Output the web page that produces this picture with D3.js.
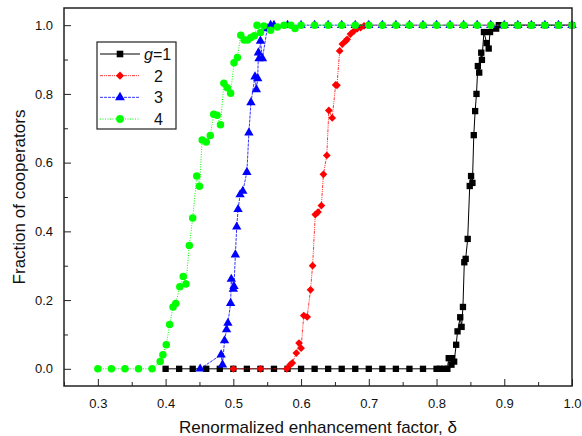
<!DOCTYPE html>
<html>
<head>
<meta charset="utf-8">
<script src="https://cdn.jsdelivr.net/npm/d3@7"></script>
<style>
  body { margin: 0; background: #fff; }
  svg { display: block; font-family: "Liberation Sans", Arial, sans-serif; }
</style>
</head>
<body>
<div id="chart"></div>
<script>
// series data: [delta, fraction]
var g1 = [[0.40,0],[0.42,0],[0.44,0],[0.46,0],[0.48,0],[0.50,0],[0.52,0],[0.54,0],[0.56,0],[0.58,0],
  [0.60,0],[0.62,0],[0.64,0],[0.66,0],[0.68,0],[0.70,0],[0.72,0],[0.74,0],[0.76,0],[0.78,0],[0.80,0],
  [0.805,0],[0.811,0],[0.816,0],[0.818,0.031],[0.822,0.012],[0.823,0.031],[0.826,0.021],[0.829,0.070],
  [0.831,0.109],[0.835,0.150],[0.837,0.122],[0.839,0.180],[0.841,0.310],[0.843,0.320],[0.846,0.378],
  [0.849,0.532],[0.851,0.561],[0.853,0.541],[0.855,0.680],[0.857,0.750],[0.859,0.800],[0.861,0.881],
  [0.863,0.862],[0.866,0.920],[0.867,0.899],[0.870,0.980],[0.874,0.948],[0.877,0.932],[0.879,0.980],
  [0.888,0.990],[0.892,1],[0.90,1],[0.92,1],[0.94,1],[0.96,1],[0.98,1],[1.00,1]];
var g2 = [[0.50,0],[0.54,0],[0.579,0],[0.584,0.012],[0.587,0.017],[0.593,0.046],[0.597,0.075],[0.600,0.060],
  [0.604,0.155],[0.609,0.151],[0.614,0.230],[0.617,0.300],[0.621,0.449],[0.625,0.456],[0.630,0.475],
  [0.633,0.566],[0.638,0.621],[0.641,0.752],[0.646,0.730],[0.651,0.826],[0.653,0.825],[0.657,0.925],
  [0.661,0.945],[0.666,0.954],[0.668,0.959],[0.673,0.974],[0.678,0.983],[0.683,0.990],[0.688,0.993],
  [0.693,0.998],[0.698,1],[0.72,1],[0.74,1],[0.76,1],[0.78,1],[0.80,1],[0.82,1],[0.84,1],[0.86,1],
  [0.88,1],[0.90,1],[0.92,1],[0.94,1],[0.96,1],[0.98,1],[1.00,1]];
var g3 = [[0.451,0],[0.482,0.041],[0.484,0.012],[0.487,0.082],[0.490,0.114],[0.492,0.133],[0.496,0.191],
  [0.497,0.261],[0.500,0.232],[0.501,0.240],[0.503,0.332],[0.505,0.413],[0.507,0.464],[0.510,0.507],
  [0.514,0.517],[0.520,0.572],[0.523,0.687],[0.526,0.775],[0.532,0.850],[0.534,0.813],[0.536,0.845],
  [0.537,0.920],[0.538,0.903],[0.540,0.954],[0.543,0.903],[0.550,0.990],[0.555,1],[0.56,1],[0.58,1],
  [0.60,1],[0.62,1],[0.64,1],[0.66,1],[0.68,1],[0.70,1],[0.72,1],[0.74,1],[0.76,1],[0.78,1],[0.80,1],
  [0.82,1],[0.84,1],[0.86,1],[0.88,1],[0.90,1],[0.92,1],[0.94,1],[0.96,1],[0.98,1],[1.00,1]];
var g4 = [[0.30,0],[0.32,0],[0.34,0],[0.36,0],[0.38,0],[0.392,0.021],[0.396,0.041],[0.401,0.070],
  [0.406,0.129],[0.411,0.180],[0.415,0.190],[0.421,0.239],[0.426,0.269],[0.430,0.247],[0.435,0.359],
  [0.440,0.439],[0.446,0.561],[0.450,0.531],[0.454,0.666],[0.460,0.660],[0.466,0.679],[0.471,0.741],
  [0.476,0.738],[0.481,0.710],[0.486,0.831],[0.491,0.818],[0.496,0.802],[0.501,0.891],[0.506,0.906],
  [0.511,0.971],[0.516,0.957],[0.521,0.957],[0.526,0.964],[0.531,0.969],[0.535,1],[0.540,0.979],
  [0.545,0.998],[0.555,0.985],[0.565,0.995],[0.575,1],[0.585,1],[0.591,0.99],[0.60,1],[0.62,1],
  [0.64,1],[0.66,1],[0.68,1],[0.70,1],[0.72,1],[0.74,1],[0.76,1],[0.78,1],[0.80,1],[0.82,1],[0.84,1],
  [0.86,1],[0.88,1],[0.90,1],[0.92,1],[0.94,1],[0.96,1],[0.98,1],[1.00,1]];

var legendLabels = ["1", "2", "3", "4"];
var xTicks = [0.3, 0.4, 0.5, 0.6, 0.7, 0.8, 0.9, 1.0];
var yTicks = [0.0, 0.2, 0.4, 0.6, 0.8, 1.0];

var width = 582, height = 436;
var margin = {left: 64, right: 10, top: 8, bottom: 50};

var series = [
  {data: g1, color: "#000", dash: null, sym: d3.symbolSquare, size: 40, rot: 0, lw: 1},
  {data: g2, color: "#ff0000", dash: "3,1,1,1,1,1", sym: d3.symbolSquare, size: 30, rot: 45, lw: 0.8},
  {data: g3, color: "#0000ff", dash: "3,1", sym: d3.symbolTriangle, size: 38, rot: 0, lw: 0.8},
  {data: g4, color: "#00ff00", dash: "1,1.5", sym: d3.symbolCircle, size: 44, rot: 0, lw: 1}
];

var svg = d3.select("#chart").append("svg")
  .attr("width", width).attr("height", height);

var x = d3.scaleLinear().domain([0.25, 1.0]).range([margin.left, width - margin.right]);
var y = d3.scaleLinear().domain([-0.05, 1.05]).range([height - margin.bottom, margin.top]);

// axes, ticks pointing inwards
var xAxis = d3.axisBottom(x).tickValues(xTicks).tickFormat(d3.format(".1f")).tickSizeInner(-7).tickSizeOuter(0).tickPadding(13);
var xMinor = d3.axisBottom(x).tickValues(d3.range(0.25, 1.0, 0.1).map(d => +d.toFixed(2))).tickFormat("").tickSizeInner(-4).tickSizeOuter(0);
var yAxis = d3.axisLeft(y).tickValues(yTicks).tickFormat(d3.format(".1f")).tickSizeInner(-7).tickSizeOuter(0).tickPadding(11);
var yMinor = d3.axisLeft(y).tickValues([0.1, 0.3, 0.5, 0.7, 0.9]).tickFormat("").tickSizeInner(-4).tickSizeOuter(0);

function styleAxis(g) {
  g.select(".domain").remove();
  g.selectAll("line").attr("stroke", "#222").attr("stroke-width", 1);
  g.selectAll("text").attr("font-size", 13).attr("fill", "#111")
    .attr("font-family", "'Liberation Sans', Arial, sans-serif");
}

svg.append("g").attr("transform", "translate(0," + (height - margin.bottom) + ")").call(xAxis).call(styleAxis);
svg.append("g").attr("transform", "translate(0," + (height - margin.bottom) + ")").call(xMinor).call(styleAxis);
svg.append("g").attr("transform", "translate(" + margin.left + ",0)").call(yAxis).call(styleAxis);
svg.append("g").attr("transform", "translate(" + margin.left + ",0)").call(yMinor).call(styleAxis);

// series
var line = d3.line().x(d => x(d[0])).y(d => y(d[1]));
series.forEach(function (s) {
  svg.append("path").datum(s.data)
    .attr("fill", "none").attr("stroke", s.color).attr("stroke-width", s.lw)
    .attr("stroke-dasharray", s.dash).attr("d", line);
  svg.append("g").selectAll("path").data(s.data).enter().append("path")
    .attr("d", d3.symbol().type(s.sym).size(s.size))
    .attr("transform", d => "translate(" + x(d[0]) + "," + y(d[1]) + ") rotate(" + s.rot + ")")
    .attr("fill", s.color);
});

// frame
svg.append("rect")
  .attr("x", margin.left).attr("y", margin.top)
  .attr("width", width - margin.left - margin.right)
  .attr("height", height - margin.top - margin.bottom)
  .attr("fill", "none").attr("stroke", "#222").attr("stroke-width", 1.5);

// axis titles
svg.append("text")
  .attr("x", (margin.left + width - margin.right) / 2).attr("y", 433)
  .attr("text-anchor", "middle").attr("font-size", 17).attr("fill", "#111")
  .text("Renormalized enhancement factor, δ");
svg.append("text")
  .attr("transform", "translate(25," + ((margin.top + height - margin.bottom) / 2) + ") rotate(-90)")
  .attr("text-anchor", "middle").attr("font-size", 17).attr("fill", "#111")
  .text("Fraction of cooperators");

// legend
var leg = svg.append("g");
leg.append("rect").attr("x", 97).attr("y", 42).attr("width", 79).attr("height", 87)
  .attr("fill", "#fff").attr("stroke", "#222").attr("stroke-width", 1.2);
var rowY = d3.scalePoint().domain(legendLabels).range([54, 119]);
series.forEach(function (s, i) {
  var yy = rowY(legendLabels[i]);
  leg.append("line").attr("x1", 100).attr("x2", 140).attr("y1", yy).attr("y2", yy)
    .attr("stroke", s.color).attr("stroke-width", s.lw).attr("stroke-dasharray", s.dash);
  leg.append("path").attr("d", d3.symbol().type(s.sym).size(s.size + 4))
    .attr("transform", "translate(120," + yy + ") rotate(" + s.rot + ")").attr("fill", s.color);
  var t = leg.append("text").attr("y", yy + 6).attr("font-size", 16).attr("fill", "#111");
  if (i === 0) {
    t.attr("x", 144);
    t.append("tspan").attr("font-style", "italic").text("g");
    t.append("tspan").text("=" + legendLabels[i]);
  } else {
    t.attr("x", 154).text(legendLabels[i]);
  }
});
</script>
</body>
</html>
